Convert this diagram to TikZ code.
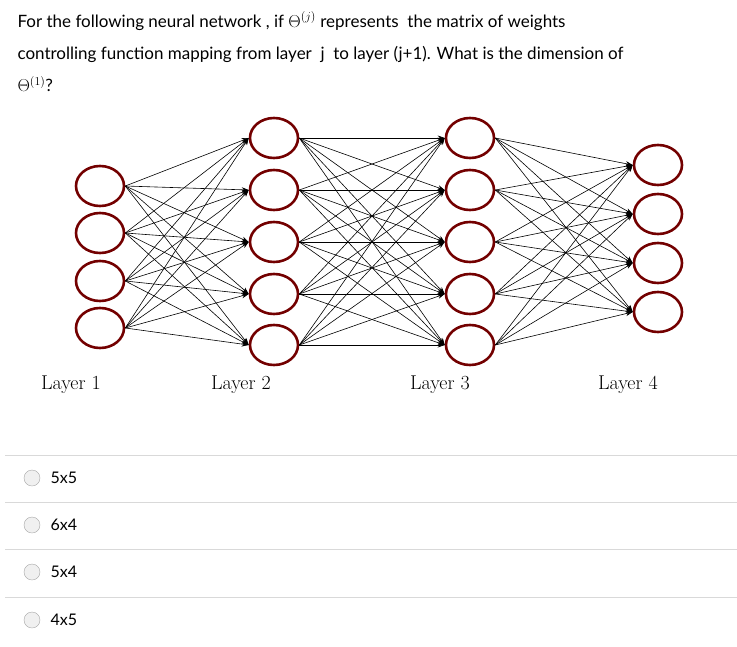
\documentclass[tikz,border=0pt]{standalone}
\usepackage{fontspec}
\newfontfamily\lato{Lato}
\usetikzlibrary{arrows.meta,shapes.geometric}
\begin{document}
\begin{tikzpicture}[x=1pt,y=-1pt,
  unit/.style={draw=red!45!black,line width=2.6pt,ellipse,minimum width=48pt,minimum height=40pt,inner sep=0pt},
  link/.style={-{Stealth[length=7pt,width=5pt]},line width=0.6pt},
  lbl/.style={font=\fontsize{20}{20}\selectfont}]
\useasboundingbox (0,0) rectangle (737,646);
% question
\node[anchor=west,font=\lato\fontsize{17}{17}\selectfont] (q1) at (14,21) {For the following neural network , if $\Theta^{(j)}$ represents\ \ the matrix of weights};
\node[anchor=west,font=\lato\fontsize{17}{17}\selectfont] (q2) at (14,54) {controlling function mapping from layer\ \ j\ \ to layer (j+1). What is the dimension of};
\node[anchor=west,font=\lato\fontsize{17}{17}\selectfont] (q3) at (14,84) {$\Theta^{(1)}$?};
% layers
\foreach \i/\y in {1/186,2/233,3/281,4/328}
  \node[unit] (a\i) at (100,\y) {};
\foreach \i/\y in {1/138,2/190,3/242,4/294,5/345}
  \node[unit] (b\i) at (274,\y) {};
\foreach \i/\y in {1/138,2/190,3/242,4/294,5/345}
  \node[unit] (c\i) at (470,\y) {};
\foreach \i/\y in {1/165,2/214,3/263,4/312}
  \node[unit] (d\i) at (658,\y) {};
% connections
\foreach \i in {1,...,4}
  \foreach \j in {1,...,5}
    \draw[link] (a\i.east) -- (b\j.west);
\foreach \i in {1,...,5}
  \foreach \j in {1,...,5}
    \draw[link] (b\i.east) -- (c\j.west);
\foreach \i in {1,...,5}
  \foreach \j in {1,...,4}
    \draw[link] (c\i.east) -- (d\j.west);
\node[lbl] (l1) at (71,385) {Layer 1};
\node[lbl] (l2) at (241,385) {Layer 2};
\node[lbl] (l3) at (440,385) {Layer 3};
\node[lbl] (l4) at (628,385) {Layer 4};
% answers
\foreach \y/\t [count=\k] in {478/5x5,525/6x4,572/5x4,620/4x5}{
  \draw[gray!30] (5,\y-23) -- (737,\y-23);
  \node[circle,draw=gray!70,fill=gray!12,minimum size=16pt,inner sep=0pt] (r\k) at (32,\y) {};
  \node[anchor=west,font=\lato\fontsize{16}{16}\selectfont] (o\k) at (47,\y) {\t};
}
\end{tikzpicture}
\end{document}
